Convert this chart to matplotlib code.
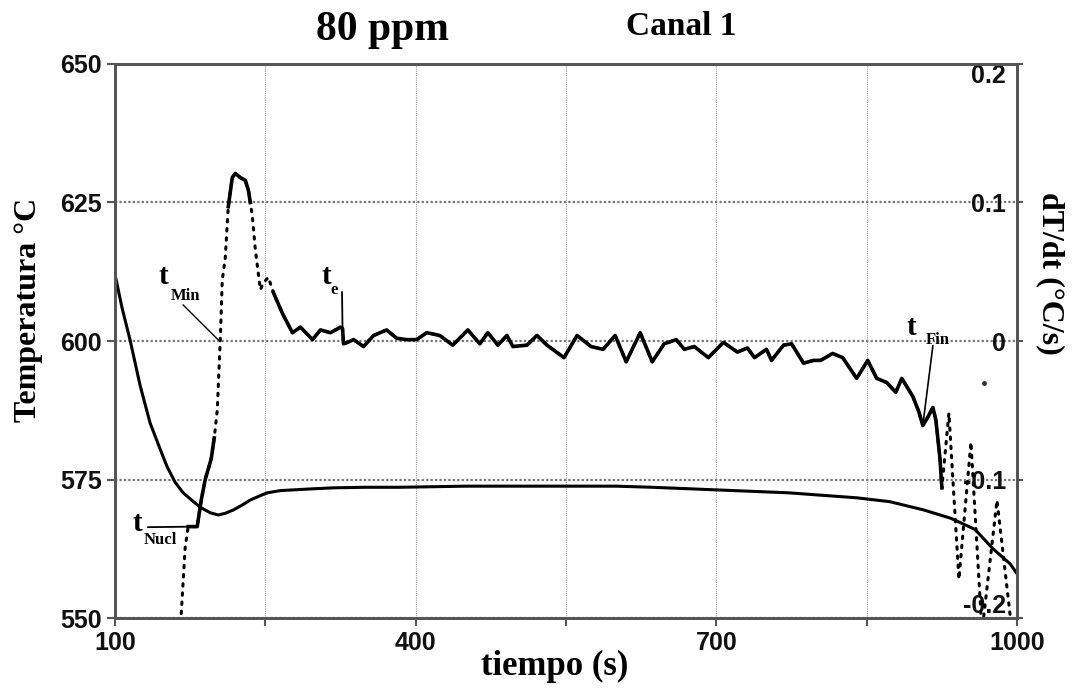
import numpy as np
import matplotlib.pyplot as plt

# curva de enfriamiento (temperatura, eje izquierdo)
tiempo_T = [100, 107, 115, 125, 135, 145, 152, 160, 168, 177, 185, 195, 203, 210, 218,
            227, 235, 245, 252, 265, 275, 295, 318, 350, 384, 450, 534, 600, 636, 704,
            772, 840, 873, 907, 934, 958, 976, 993, 1000]
temperatura = [612, 606, 600.2, 592, 585.2, 580.5, 577.3, 574.5, 572.6, 571.2, 570.0, 569.0,
               568.6, 568.9, 569.5, 570.4, 571.3, 572.1, 572.6, 573.0, 573.1, 573.3, 573.5,
               573.6, 573.6, 573.8, 573.8, 573.8, 573.6, 573.1, 572.6, 571.7, 571.0, 569.5,
               568.0, 566.0, 562.5, 559.8, 558.0]

# primera derivada dT/dt (eje derecho)
tiempo_d = [165, 170, 173, 182, 186, 190, 196, 199, 202, 205, 207, 210, 213, 217, 220, 225,
            230, 233, 235, 237, 240, 245, 248, 253, 258, 267, 277, 285, 297, 305, 315, 325,
            327, 328, 332, 338, 348, 358, 371, 381, 391, 401, 411, 424, 437, 452, 464, 472,
            482, 491, 497, 511, 521, 531, 548, 561, 575, 587, 599, 610, 624, 636, 648, 660,
            668, 678, 692, 707, 721, 731, 738, 750, 755, 767, 775, 787, 797, 804, 816, 826,
            840, 851, 860, 870, 879, 885, 896, 902, 906, 911, 916, 919, 923, 925, 932, 942,
            954, 965, 980, 995]
derivada = [-0.21, -0.149, -0.134, -0.134, -0.115, -0.100, -0.085, -0.070, -0.050, 0.000,
            0.044, 0.060, 0.097, 0.118, 0.121, 0.118, 0.116, 0.109, 0.100, 0.090, 0.066,
            0.037, 0.042, 0.046, 0.035, 0.020, 0.006, 0.010, 0.001, 0.008, 0.006, 0.010,
            0.009, -0.002, -0.001, 0.001, -0.004, 0.004, 0.008, 0.002, 0.001, 0.001, 0.006,
            0.004, -0.003, 0.008, -0.002, 0.006, -0.003, 0.004, -0.004, -0.003, 0.004,
            -0.003, -0.012, 0.004, -0.004, -0.006, 0.004, -0.015, 0.006, -0.015, -0.002,
            0.001, -0.006, -0.004, -0.012, -0.001, -0.008, -0.005, -0.012, -0.006, -0.014,
            -0.003, -0.002, -0.016, -0.014, -0.014, -0.009, -0.012, -0.027, -0.014, -0.027,
            -0.030, -0.037, -0.027, -0.040, -0.051, -0.061, -0.055, -0.048, -0.057, -0.084,
            -0.106, -0.052, -0.172, -0.073, -0.21, -0.115, -0.21]

# tramos donde la derivada se ve continua (el resto queda punteado)
tramos_continuos = [(173, 199), (213, 235), (258, 925)]

x_ticks = [100, 250, 400, 550, 700, 850, 1000]
x_labels = ['100', '', '400', '', '700', '', '1000']
y_ticks = [550, 575, 600, 625, 650]
d_ticks = [-0.2, -0.1, 0, 0.1, 0.2]
d_labels = ['-0.2', '-0.1', '0', '0.1', '0.2']

serif = 'Liberation Serif'
sans = 'Liberation Sans'

fig = plt.figure(figsize=(10.83, 6.88), dpi=100)
ax = fig.add_axes([0.1062, 0.1017, 0.8329, 0.8053])
ax2 = ax.twinx()

ax.plot(tiempo_T, temperatura, color='black', lw=2.2, solid_capstyle='round')

td = np.array(tiempo_d)
dd = np.array(derivada)
ax2.plot(td, dd, color='black', lw=2.2, ls=(0, (0.8, 2.2)), dash_capstyle='round')
for a, b in tramos_continuos:
    m = (td >= a) & (td <= b)
    ax2.plot(td[m], dd[m], color='black', lw=2.6, solid_joinstyle='round')
ax2.plot([967], [-0.030], 'o', color='#333', ms=2.5)

ax.set_xlim(100, 1000)
ax.set_ylim(550, 650)
ax2.set_ylim(-0.2, 0.2)
ax.set_xticks(x_ticks)
ax.set_xticklabels(x_labels)
ax.set_yticks(y_ticks)
ax2.set_yticks(d_ticks)
ax2.set_yticklabels(d_labels)

ax.grid(axis='x', color='#999999', lw=0.8, ls=(0, (1, 1)))
ax.grid(axis='y', color='#777777', lw=1.6, ls=(0, (1, 1)))

for a_ in (ax, ax2):
    for s in a_.spines.values():
        s.set_color('#555555')
        s.set_linewidth(2)
ax.tick_params(direction='out', length=6, width=1.5, color='#555555')
ax2.tick_params(axis='y', direction='out', length=4, width=1.5, color='#555555', pad=-12)
for lab in ax.get_xticklabels() + ax.get_yticklabels() + ax2.get_yticklabels():
    lab.set_fontfamily(sans)
    lab.set_fontweight('bold')
    lab.set_fontsize(18)
    lab.set_color('#111111')
dlabs = ax2.get_yticklabels()
for lab in dlabs:
    lab.set_horizontalalignment('right')
dlabs[0].set_verticalalignment('bottom')
dlabs[-1].set_verticalalignment('top')

# anotaciones
def marca(a_, x, y, letra, xs, ys, sub):
    a_.text(x, y, letra, fontfamily=serif, fontweight='bold', fontsize=21,
            ha='center', va='center')
    a_.text(xs, ys, sub, fontfamily=serif, fontweight='bold', fontsize=12,
            ha='center', va='center')

marca(ax, 148, 611.7, 't', 170, 608.1, 'Min')
ax.plot([168, 203], [606.5, 600.2], color='black', lw=1)
marca(ax, 311, 611.7, 't', 319, 609.2, 'e')
ax.plot([326.5, 327], [608.8, 602.3], color='black', lw=1.3)
marca(ax, 122, 567.1, 't', 145, 564.0, 'Nucl')
ax.plot([133, 182], [566.4, 566.5], color='black', lw=1.3)
marca(ax, 895, 602.5, 't', 921, 600.2, 'Fin')
ax.plot([916, 906], [599.1, 584.8], color='black', lw=1.2)

fig.text(0.353, 0.942, '80 ppm', fontfamily=serif, fontweight='bold', fontsize=30,
         ha='center', va='baseline')
fig.text(0.629, 0.949, 'Canal 1', fontfamily=serif, fontweight='bold', fontsize=24,
         ha='center', va='baseline')
fig.text(0.5125, 0.019, 'tiempo (s)', fontfamily=serif, fontweight='bold', fontsize=25,
         ha='center', va='baseline')
fig.text(0.026, 0.549, 'Temperatura °C', fontfamily=serif, fontweight='bold', fontsize=23,
         ha='center', va='center', rotation=90)
fig.text(0.9695, 0.603, 'dT/dt (°C/s)', fontfamily=serif, fontweight='bold', fontsize=23,
         ha='center', va='center', rotation=270)

fig.savefig('out.png', dpi=100)
